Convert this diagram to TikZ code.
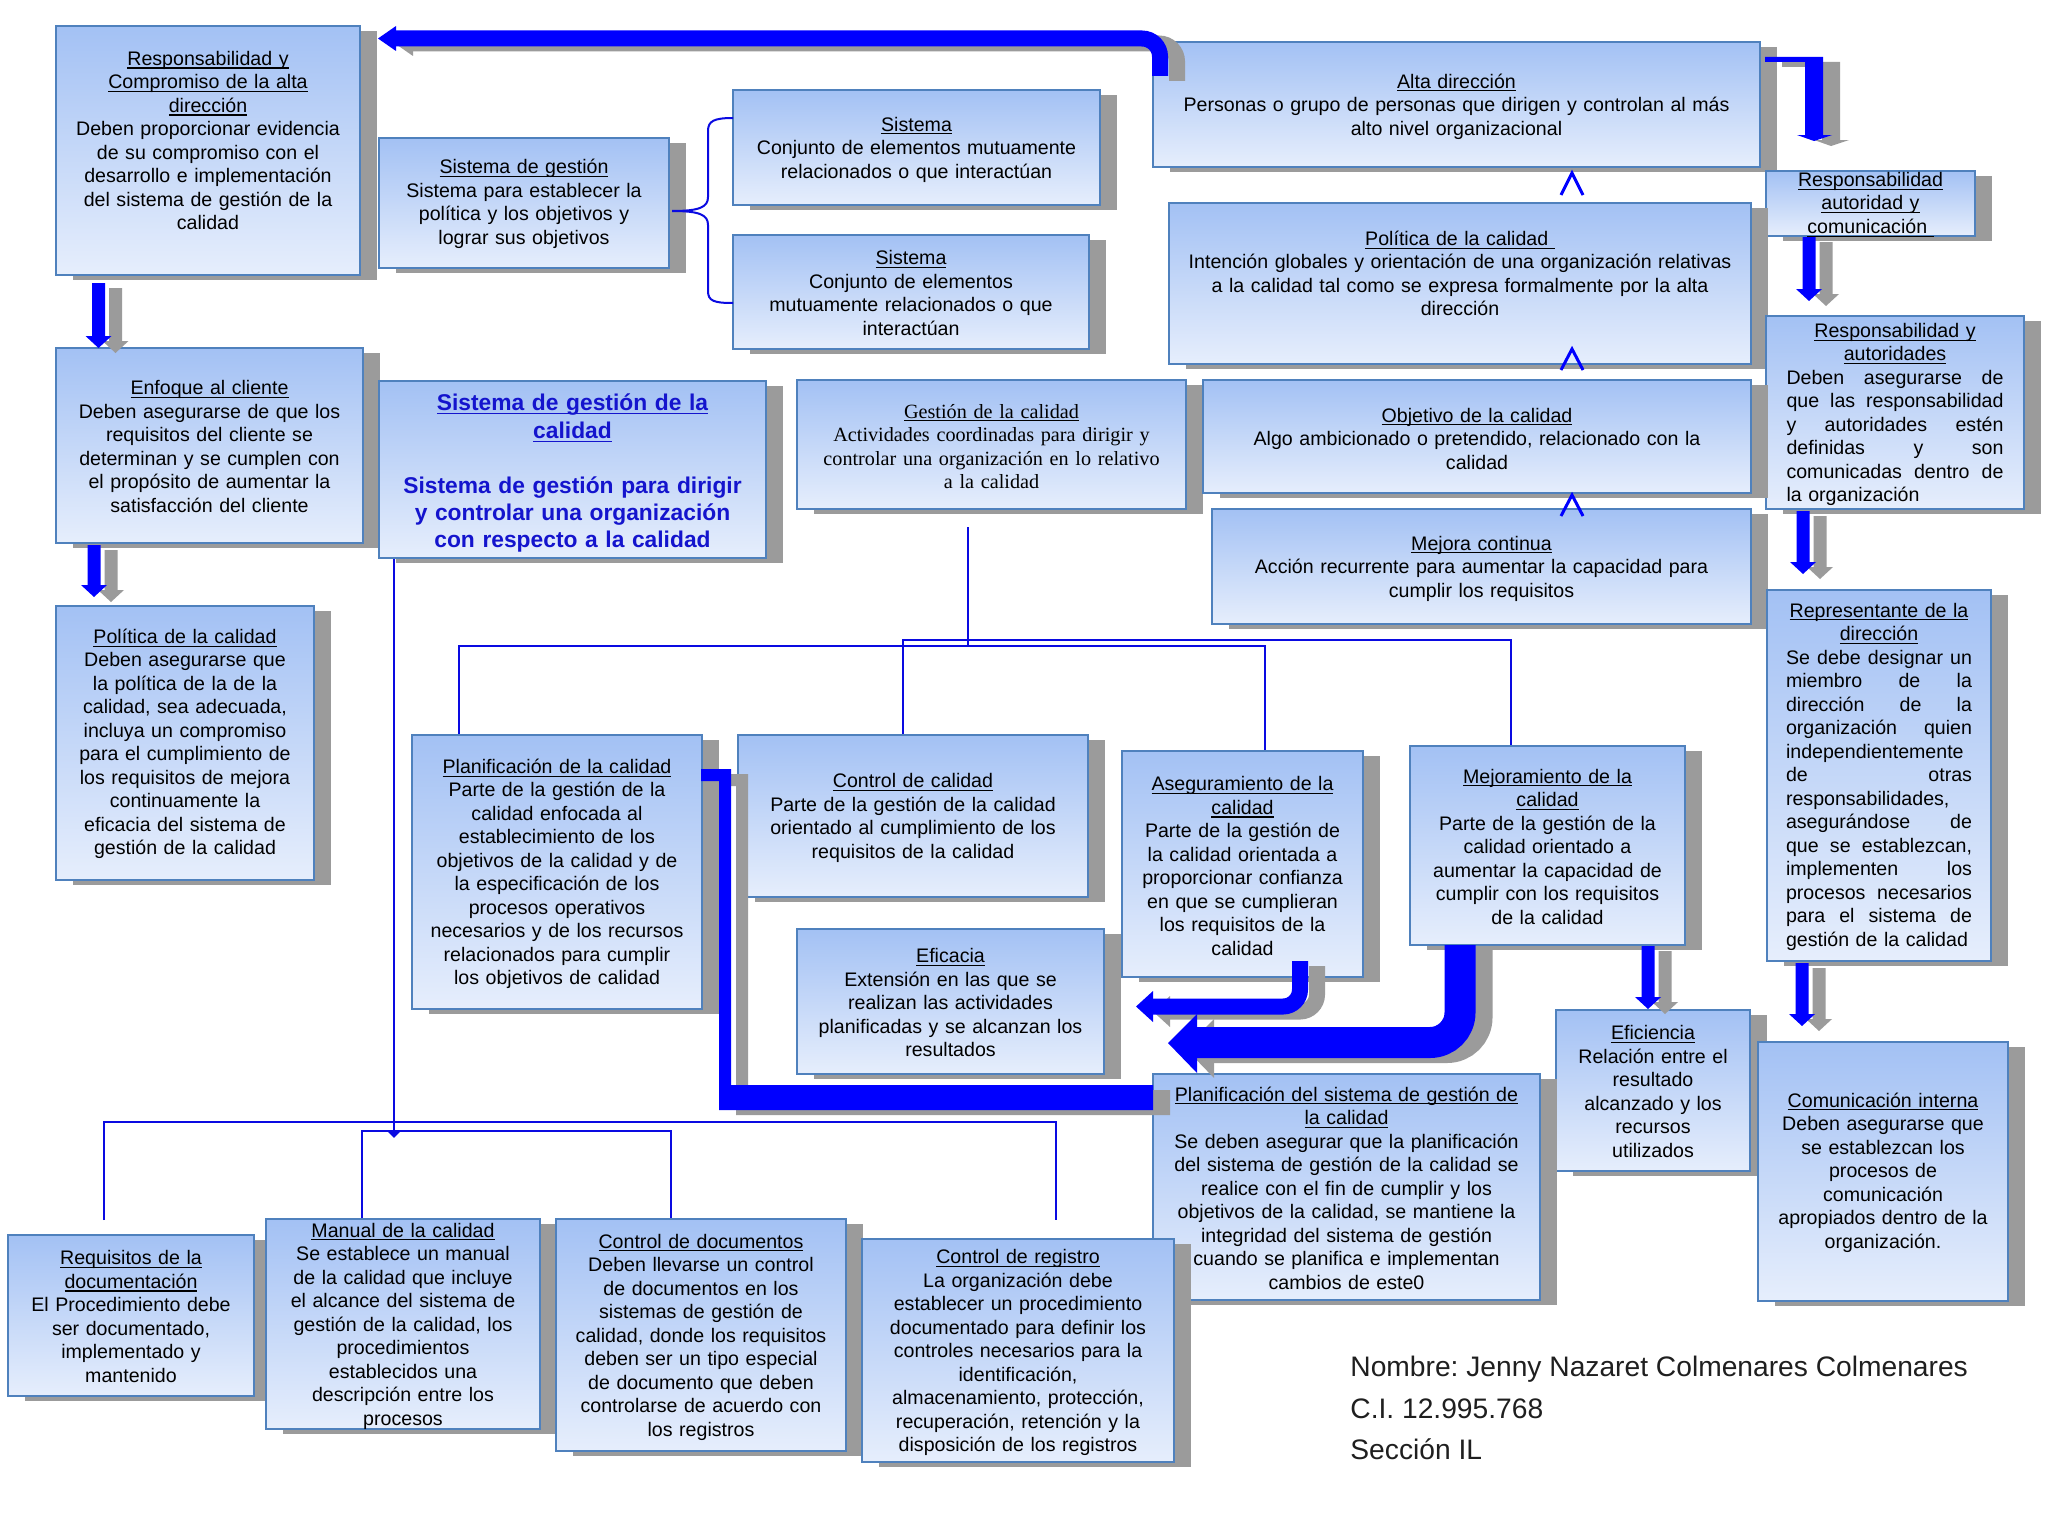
\documentclass[tikz,border=0pt]{standalone}
\usepackage{fontspec}
\setmainfont{Liberation Sans}
\newfontfamily\serifbox{Liberation Serif}
\usetikzlibrary{arrows.meta}
\definecolor{boxtop}{RGB}{163,193,244}
\definecolor{boxbot}{RGB}{230,238,252}
\definecolor{bordc}{RGB}{79,129,189}
\definecolor{shgray}{RGB}{155,155,155}
\definecolor{arrblue}{RGB}{0,0,255}
\definecolor{lineblue}{RGB}{10,10,225}
\definecolor{mainblue}{RGB}{20,20,205}
\frenchspacing
\newcommand\bodyfont{\fontsize{9.8}{11.75}\selectfont}
\newcommand\jline[1]{\leavevmode\hbox to\linewidth{\spaceskip=0.25em plus 1fil\relax #1}}
\newcommand\lline[1]{\leavevmode\hbox to\linewidth{#1\hfil}}
\newcommand\uline[1]{\setbox0\hbox{#1}\leavevmode\rlap{\vrule height -1.1pt depth 1.65pt width \wd0}\box0}
\tikzset{
 qb/.style={draw=bordc, line width=1pt, top color=boxtop, bottom color=boxbot, inner sep=0pt, outer sep=0pt},
 qt/.style={align=center, inner sep=0pt, font=\bodyfont},
 conn/.style={draw=lineblue, line width=1pt},
 vmark/.style={draw=arrblue, line width=1.5pt, line join=miter},
}
\newcommand\qbox[8][]{%
  \pgfmathsetmacro\qbw{(#5-#3)/2}%
  \pgfmathsetmacro\qbh{(#6-#4)/2}%
  \fill[shgray] ({#3+17},{#4+5}) rectangle ({#5+17},{#6+5});
  \node[qb, minimum width=\qbw pt, minimum height=\qbh pt] (#2) at ({(#3+#5)/2},{(#4+#6)/2}) {};
  \node[qt, text width=\qbw pt, #1] (#2-t) at ({(#3+#5)/2},{(#4+#6)/2+#7}) {#8};
}
\newcommand\varr[4]{% color x ytop ytip
  \fill[#1] ({#2-6.5},#3) -- ({#2+6.5},#3) -- ({#2+6.5},{#4-12}) -- ({#2+13},{#4-12}) -- (#2,#4) -- ({#2-13},{#4-12}) -- ({#2-6.5},{#4-12}) -- cycle;
}
\newcommand\allarrows[1]{%
  % Alta direccion -> Responsabilidad y compromiso
  \draw[#1, line width=8pt, rounded corners=9pt] (1160,76) -- (1160,38.5) -- (395,38.5);
  \fill[#1] (396,26) -- (378,38.5) -- (396,51) -- cycle;
  % Alta direccion -> Responsabilidad autoridad
  \fill[#1] (1765,57) -- (1823,57) -- (1823,135) -- (1832,135) -- (1814,141) -- (1797,135) -- (1805,135) -- (1805,62) -- (1765,62) -- cycle;
  \varr{#1}{98.5}{283}{348}
  \varr{#1}{94}{545}{597}
  \varr{#1}{1809}{237}{301}
  \varr{#1}{1803}{511}{574}
  \varr{#1}{1802}{963}{1026}
  \varr{#1}{1648}{946}{1009}
  % Aseguramiento -> Eficacia
  \draw[#1, line width=8pt, rounded corners=8.5pt] (1300,961) -- (1300,1006.5) -- (1152,1006.5);
  \fill[#1] (1153,991) -- (1136,1006.5) -- (1153,1022) -- cycle;
  % Mejoramiento -> Eficacia
  \draw[#1, line width=15.5pt, rounded corners=15pt] (1460,945) -- (1460,1042.5) -- (1196,1042.5);
  \fill[#1] (1197,1014) -- (1168,1043) -- (1197,1073) -- cycle;
  % Planificacion de la calidad -> Planificacion del sistema
  \fill[#1] (701,769) -- (731,769) -- (731,1085) -- (1153,1085) -- (1153,1110) -- (719,1110) -- (719,781) -- (701,781) -- cycle;
}
\begin{document}
\begin{tikzpicture}[x=0.5pt,y=-0.5pt]
\useasboundingbox (0,0) rectangle (2048,1536);
\fill[white] (0,0) rectangle (2048,1536);

% thin connectors
\draw[conn] (968,527) -- (968,646);
\draw[conn] (459,735) |- (1265,646) -- (1265,752);
\draw[conn] (903,735) |- (1511,640) -- (1511,746);
\draw[conn, -{Triangle[length=4pt,width=7.5pt]}] (394,559) -- (394,1138);
\draw[conn] (104,1220) |- (1056,1122) -- (1056,1220);
\draw[conn] (362,1218) |- (671,1131) -- (671,1218);

% boxes
\qbox{resp}{56}{26}{360}{275}{-10}{\uline{Responsabilidad y}\\\uline{Compromiso de la alta}\\\uline{dirección}\\Deben proporcionar evidencia\\de su compromiso con el\\desarrollo e implementación\\del sistema de gestión de la\\calidad}
\qbox{sgest}{379}{138}{669}{268}{1}{\uline{Sistema de gestión}\\Sistema para establecer la\\política y los objetivos y\\lograr sus objetivos}
\qbox{sis1}{733}{90}{1100}{205}{2}{\uline{Sistema}\\Conjunto de elementos mutuamente\\relacionados o que interactúan}
\qbox{sis2}{733}{235}{1089}{349}{1}{\uline{Sistema}\\Conjunto de elementos\\mutuamente relacionados o que\\interactúan}
\qbox{alta}{1153}{42}{1760}{167}{2}{\uline{Alta dirección}\\Personas o grupo de personas que dirigen y controlan al más\\alto nivel organizacional}
\qbox{rac}{1766}{171}{1975}{236}{1}{\uline{Responsabilidad}\\\uline{autoridad y}\\\uline{comunicación }}
\qbox{polc}{1169}{203}{1751}{364}{-10}{\uline{Política de la calidad }\\Intención globales y orientación de una organización relativas\\a la calidad tal como se expresa formalmente por la alta\\dirección}
\qbox[text width=108.5pt]{rya}{1766}{316}{2024}{509}{2}{\uline{Responsabilidad y}\\\uline{autoridades}\\\jline{Deben asegurarse de}\\\jline{que las responsabilidad}\\\jline{y autoridades estén}\\\jline{definidas y son}\\\jline{comunicadas dentro de}\\\lline{la organización}}
\qbox{enf}{56}{348}{363}{543}{1}{\uline{Enfoque al cliente}\\Deben asegurarse de que los\\requisitos del cliente se\\determinan y se cumplen con\\el propósito de aumentar la\\satisfacción del cliente}
\qbox[font=\bfseries\fontsize{11.4}{13.7}\selectfont, text=mainblue]{main}{379}{381}{766}{558}{4}{\uline{Sistema de gestión de la}\\\uline{calidad}\\[13.7pt]Sistema de gestión para dirigir\\y controlar una organización\\con respecto a la calidad}
\qbox[font=\serifbox\fontsize{10.1}{11.75}\selectfont]{gest}{797}{380}{1186}{509}{2}{\uline{Gestión de la calidad}\\Actividades coordinadas para dirigir y\\controlar una organización en lo relativo\\a la calidad}
\qbox{obj}{1203}{380}{1751}{493}{2}{\uline{Objetivo de la calidad}\\Algo ambicionado o pretendido, relacionado con la\\calidad}
\qbox{mej}{1212}{509}{1751}{624}{2}{\uline{Mejora continua}\\Acción recurrente para aumentar la capacidad para\\cumplir los requisitos}
\qbox[text width=93pt]{rep}{1767}{590}{1991}{961}{1}{\uline{Representante de la}\\\uline{dirección}\\\jline{Se debe designar un}\\\jline{miembro de la}\\\jline{dirección de la}\\\jline{organización quien}\\\lline{independientemente}\\\jline{de otras}\\\lline{responsabilidades,}\\\jline{asegurándose de}\\\jline{que se establezcan,}\\\jline{implementen los}\\\jline{procesos necesarios}\\\jline{para el sistema de}\\\lline{gestión de la calidad}}
\qbox{polL}{56}{606}{314}{880}{1}{\uline{Política de la calidad}\\Deben asegurarse que\\la política de la de la\\calidad, sea adecuada,\\incluya un compromiso\\para el cumplimiento de\\los requisitos de mejora\\continuamente la\\eficacia del sistema de\\gestión de la calidad}
\qbox{planq}{412}{735}{702}{1009}{2}{\uline{Planificación de la calidad}\\Parte de la gestión de la\\calidad enfocada al\\establecimiento de los\\objetivos de la calidad y de\\la especificación de los\\procesos operativos\\necesarios y de los recursos\\relacionados para cumplir\\los objetivos de calidad}
\qbox{ctrl}{738}{735}{1088}{897}{2}{\uline{Control de calidad}\\Parte de la gestión de la calidad\\orientado al cumplimiento de los\\requisitos de la calidad}
\qbox{aseg}{1122}{751}{1363}{977}{2}{\uline{Aseguramiento de la}\\\uline{calidad}\\Parte de la gestión de\\la calidad orientada a\\proporcionar confianza\\en que se cumplieran\\los requisitos de la\\calidad}
\qbox{mejq}{1410}{746}{1685}{945}{1}{\uline{Mejoramiento de la}\\\uline{calidad}\\Parte de la gestión de la\\calidad orientado a\\aumentar la capacidad de\\cumplir con los requisitos\\de la calidad}
\qbox{efic}{797}{929}{1104}{1074}{1}{\uline{Eficacia}\\Extensión en las que se\\realizan las actividades\\planificadas y se alcanzan los\\resultados}
\qbox{efi}{1556}{1010}{1750}{1171}{1}{\uline{Eficiencia}\\Relación entre el\\resultado\\alcanzado y los\\recursos\\utilizados}
\qbox{com}{1758}{1042}{2008}{1301}{1}{\uline{Comunicación interna}\\Deben asegurarse que\\se establezcan los\\procesos de\\comunicación\\apropiados dentro de la\\organización.}
\qbox{plans}{1153}{1074}{1540}{1300}{1}{\uline{Planificación del sistema de gestión de}\\\uline{la calidad}\\Se deben asegurar que la planificación\\del sistema de gestión de la calidad se\\realice con el fin de cumplir y los\\objetivos de la calidad, se mantiene la\\integridad del sistema de gestión\\cuando se planifica e implementan\\cambios de este0}
\qbox{req}{8}{1235}{254}{1396}{1}{\uline{Requisitos de la}\\\uline{documentación}\\El Procedimiento debe\\ser documentado,\\implementado y\\mantenido}
\qbox{man}{266}{1219}{540}{1429}{2}{\uline{Manual de la calidad}\\Se establece un manual\\de la calidad que incluye\\el alcance del sistema de\\gestión de la calidad, los\\procedimientos\\establecidos una\\descripción entre los\\procesos}
\qbox{cdoc}{556}{1219}{846}{1451}{2}{\uline{Control de documentos}\\Deben llevarse un control\\de documentos en los\\sistemas de gestión de\\calidad, donde los requisitos\\deben ser un tipo especial\\de documento que deben\\controlarse de acuerdo con\\los registros}
\qbox{creg}{862}{1239}{1174}{1462}{2}{\uline{Control de registro}\\La organización debe\\establecer un procedimiento\\documentado para definir los\\controles necesarios para la\\identificación,\\almacenamiento, protección,\\recuperación, retención y la\\disposición de los registros}

% brace Sistema de gestion -> Sistema / Sistema
\coordinate (brTop) at (733,118);
\coordinate (brMid) at (672,211);
\coordinate (brBot) at (733,303);
\draw[conn] (brTop) .. controls (714,118) and (708,121) .. (708,131) -- (708,197) .. controls (708,207) and (700,211) .. (brMid);
\draw[conn] (brMid) .. controls (700,211) and (708,215) .. (708,225) -- (708,291) .. controls (708,301) and (714,303) .. (brBot);

% open arrow marks between stacked boxes
\draw[vmark] (1561,195) -- (1572,173) -- (1583,195);
\draw[vmark] (1561,370) -- (1572,349) -- (1583,370);
\draw[vmark] (1561,516) -- (1572,495) -- (1583,516);

% thick block arrows (shadow, then blue)
\begin{scope}[shift={(17,5)}]
\allarrows{shgray}
\end{scope}
\allarrows{arrblue}

% footer
\node[anchor=west, align=left, inner sep=0pt, font=\fontsize{14.1}{20.75}\selectfont, text=black!88] (footer) at (1350,1408) {Nombre: Jenny Nazaret Colmenares Colmenares\\C.I. 12.995.768\\Sección IL};
\end{tikzpicture}
\end{document}
